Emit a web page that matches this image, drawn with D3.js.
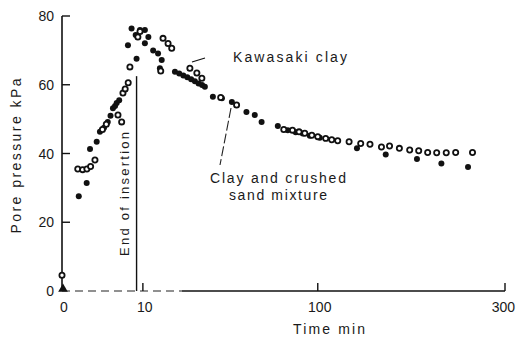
<!DOCTYPE html>
<html>
<head>
<meta charset="utf-8">
<script src="https://cdn.jsdelivr.net/npm/d3@7"></script>
<style>
  body { margin: 0; background: #fff; }
  svg text { font-family: "Liberation Sans", Arial, sans-serif; fill: #1a1a1a; }
</style>
</head>
<body>
<div id="chart"></div>
<script>
// Kawasaki clay (open circles): [time min, pore pressure kPa]
var kawasakiClay = [
  [0, 4.6], [0.38, 35.5], [0.65, 35.3], [0.95, 35.5], [1.25, 36.2], [1.66, 38.1],
  [2.5, 47], [3.0, 48.5], [4.79, 51.2], [5.44, 49.2], [5.68, 57.6], [6.1, 58.8],
  [6.7, 60.6], [7.05, 65.2], [8.8, 73.9], [9.3, 75.5], [14.9, 64], [15.6, 73.5],
  [17.2, 72], [18.4, 70.6], [25, 64.8], [27.8, 63.4], [29.9, 61.9], [38.5, 56.3],
  [46.6, 54.1], [75.2, 47], [81.2, 46.8], [85.9, 46.3], [90.1, 45.9], [95.4, 45.3],
  [100, 44.9], [106.3, 44.4], [111.2, 44.0], [116.2, 43.7], [126, 43.4], [136.4, 42.9],
  [145, 42.7], [156, 41.9], [164, 42.2], [174, 41.5], [184.8, 41], [194.5, 40.8],
  [204.4, 40.3], [214.6, 40.2], [225.7, 40.2], [236.9, 40.3], [257.6, 40.3]
];

// Clay and crushed sand mixture (filled circles)
var sandMixture = [
  [0.43, 27.6], [0.93, 31.4], [1.2, 41.3], [1.84, 43.4], [2.2, 46.3], [2.7, 47.5],
  [3.2, 49.2], [3.6, 51], [3.97, 53.2], [4.3, 53.8], [4.57, 54.7], [5.0, 55.5],
  [8.5, 67.6], [6.65, 71.5], [7.4, 76.4], [8.3, 74.5], [9.3, 75.9], [10.5, 75.9],
  [10.5, 72.1], [11.4, 73.9], [12.7, 70], [14.1, 69.1], [15.2, 67.2], [14.65, 64.8],
  [19.5, 63.8], [21, 63.3], [22.5, 62.7], [24, 62.2], [25.5, 61.6], [27, 61],
  [28.5, 60.4], [30, 59.9], [31.2, 59.4], [34.8, 56.5], [39.1, 56.1], [44.1, 55],
  [52, 52.1], [56.8, 51.2], [60.9, 49.2], [71.2, 48.0], [77.9, 46.8], [83.5, 46.2],
  [88.6, 45.8], [93.9, 45.2], [101.6, 44.6], [133, 41.5], [160.2, 39.7], [192.6, 38.4],
  [220, 37.1], [252, 36.1]
];

var startPoint = [[0, 0]];
var endOfInsertion = 8.5;
var endLineTop = 62.5;

var xTicks = [0, 10, 100, 300];
var yTicks = [0, 20, 40, 60, 80];

var width = 516, height = 342;

var svg = d3.select("#chart").append("svg")
  .attr("width", width)
  .attr("height", height);

var x = d3.scaleSqrt().domain([0, 300]).range([62, 505]);
var y = d3.scaleLinear().domain([0, 80]).range([291, 16]);

// Y axis
svg.append("line")
  .attr("x1", x(0)).attr("x2", x(0))
  .attr("y1", y(80)).attr("y2", y(0))
  .attr("stroke", "#111").attr("stroke-width", 1.6);

svg.selectAll(".ytick").data(yTicks.filter(function (d) { return d > 0; }))
  .enter().append("line")
  .attr("x1", x(0)).attr("x2", x(0) + 8)
  .attr("y1", function (d) { return y(d); })
  .attr("y2", function (d) { return y(d); })
  .attr("stroke", "#111").attr("stroke-width", 1.4);

svg.selectAll(".ylab").data(yTicks)
  .enter().append("text")
  .attr("x", 54)
  .attr("y", function (d) { return y(d) + 5; })
  .attr("text-anchor", "end")
  .attr("font-size", "14px")
  .text(function (d) { return d; });

// X axis (dashed at the left like the scan)
svg.append("line")
  .attr("x1", x(0)).attr("x2", x(22))
  .attr("y1", y(0)).attr("y2", y(0))
  .attr("stroke", "#222").attr("stroke-width", 1.2)
  .attr("stroke-dasharray", "8,5");
svg.append("line")
  .attr("x1", x(22)).attr("x2", x(300))
  .attr("y1", y(0)).attr("y2", y(0))
  .attr("stroke", "#111").attr("stroke-width", 1.4);

svg.selectAll(".xtick").data(xTicks.filter(function (d) { return d > 0; }))
  .enter().append("line")
  .attr("x1", function (d) { return x(d); })
  .attr("x2", function (d) { return x(d); })
  .attr("y1", y(0)).attr("y2", y(0) - 8)
  .attr("stroke", "#111").attr("stroke-width", 1.4);

svg.selectAll(".xlab").data(xTicks)
  .enter().append("text")
  .attr("x", function (d) { return d === 300 ? 515 : x(d) + 2; })
  .attr("y", 312)
  .attr("text-anchor", function (d) { return d === 300 ? "end" : "middle"; })
  .attr("font-size", "14px")
  .text(function (d) { return d; });

// Axis titles
svg.append("text")
  .attr("transform", "translate(21,156) rotate(-90)")
  .attr("text-anchor", "middle")
  .attr("font-size", "14px")
  .attr("textLength", 155)
  .attr("lengthAdjust", "spacing")
  .text("Pore pressure kPa");

svg.append("text")
  .attr("x", 293)
  .attr("y", 334)
  .attr("font-size", "14px")
  .attr("fill", "#444")
  .attr("textLength", 72)
  .attr("lengthAdjust", "spacing")
  .text("Time  min");

// End of insertion marker
svg.append("line")
  .attr("x1", x(endOfInsertion)).attr("x2", x(endOfInsertion))
  .attr("y1", y(endLineTop)).attr("y2", y(0))
  .attr("stroke", "#111").attr("stroke-width", 1.4);

svg.append("text")
  .attr("transform", "translate(129,194) rotate(-90)")
  .attr("text-anchor", "middle")
  .attr("font-size", "13px")
  .attr("fill", "#555")
  .attr("textLength", 124)
  .attr("lengthAdjust", "spacing")
  .text("End of insertion");

// Annotations
svg.append("text")
  .attr("x", 233).attr("y", 62)
  .attr("font-size", "14px")
  .attr("textLength", 114)
  .attr("lengthAdjust", "spacing")
  .text("Kawasaki clay");
svg.append("line")
  .attr("x1", 192).attr("y1", 62).attr("x2", 205).attr("y2", 58)
  .attr("stroke", "#111").attr("stroke-width", 1.1);

svg.append("text")
  .attr("x", 210).attr("y", 183)
  .attr("font-size", "14px")
  .attr("fill", "#333")
  .attr("textLength", 136)
  .attr("lengthAdjust", "spacing")
  .text("Clay and crushed");
svg.append("text")
  .attr("x", 229).attr("y", 200)
  .attr("font-size", "14px")
  .attr("fill", "#555")
  .attr("textLength", 98)
  .attr("lengthAdjust", "spacing")
  .text("sand mixture");
svg.append("line")
  .attr("x1", 231).attr("y1", 108).attr("x2", 220).attr("y2", 165)
  .attr("stroke", "#222").attr("stroke-width", 1.1)
  .attr("stroke-dasharray", "10,3");

// Markers
svg.selectAll(".filled").data(sandMixture)
  .enter().append("circle")
  .attr("cx", function (d) { return x(d[0]); })
  .attr("cy", function (d) { return y(d[1]); })
  .attr("r", 3)
  .attr("fill", "#111");

svg.selectAll(".open").data(kawasakiClay)
  .enter().append("circle")
  .attr("cx", function (d) { return x(d[0]); })
  .attr("cy", function (d) { return y(d[1]); })
  .attr("r", 2.6)
  .attr("fill", "#fff")
  .attr("stroke", "#111")
  .attr("stroke-width", 1.8);

svg.selectAll(".start").data(startPoint)
  .enter().append("path")
  .attr("d", d3.symbol().type(d3.symbolTriangle).size(40))
  .attr("transform", function (d) { return "translate(" + (x(d[0]) + 1) + "," + (y(d[1]) - 2) + ")"; })
  .attr("fill", "#111");
</script>
</body>
</html>
